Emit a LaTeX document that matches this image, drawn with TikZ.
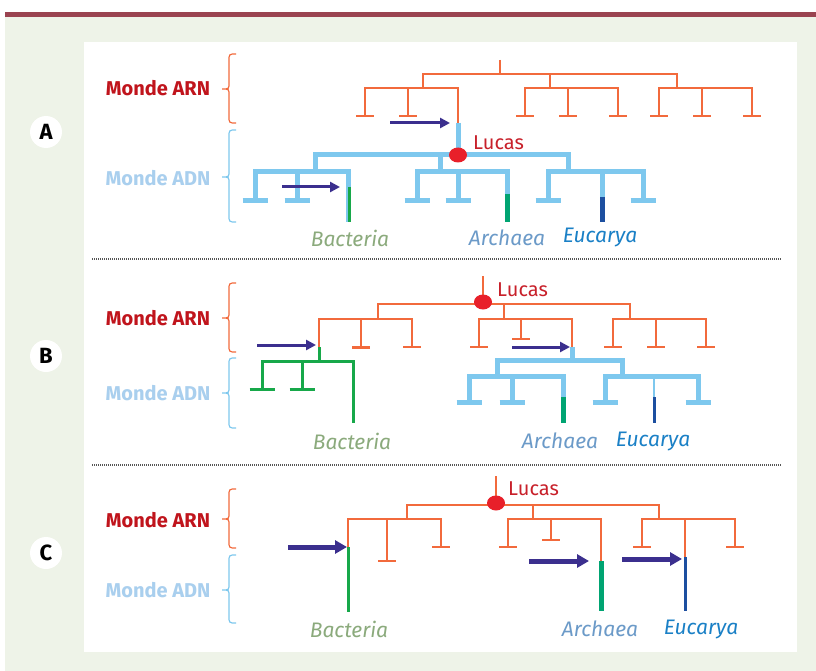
\documentclass[tikz,border=0pt]{standalone}
\usepackage{fontspec}
\setmainfont{Fira Sans}
\usetikzlibrary{arrows.meta,shapes.geometric}
\definecolor{arn}{HTML}{F26A3C}
\definecolor{adnb}{HTML}{7EC8EE}
\definecolor{dotred}{HTML}{E8202A}
\definecolor{lucasc}{HTML}{C8202A}
\definecolor{arrc}{HTML}{3B2F8E}
\definecolor{bactg}{HTML}{17A84A}
\definecolor{archg}{HTML}{00A472}
\definecolor{eucb}{HTML}{1D4FA0}
\definecolor{mondearn}{HTML}{C0141C}
\definecolor{mondeadn}{HTML}{A9CFEE}
\definecolor{lbact}{HTML}{8BAA7C}
\definecolor{larch}{HTML}{6B9AC8}
\definecolor{leuc}{HTML}{1A80C6}
\definecolor{bgg}{HTML}{EEF3E8}
\definecolor{barc}{HTML}{9A4350}
\definecolor{sepc}{HTML}{555555}
\begin{document}
\begin{tikzpicture}[x=1pt,y=-1pt,
  orn/.style={draw=arn, line width=2pt},
  adn/.style={draw=adnb, line width=5pt},
  grn/.style={draw=bactg, line width=3pt},
  archbar/.style={draw=archg, line width=5pt},
  eucbar/.style={draw=eucb, line width=5pt},
  eucthin/.style={draw=eucb, line width=3pt},
  arr/.style={draw=arrc, line width=3pt, -{Triangle[length=10pt,width=10pt]}},
  arrthick/.style={draw=arrc, line width=5pt, -{Triangle[length=12pt,width=13pt]}},
  lucasdot/.style={ellipse, fill=dotred, minimum width=18pt, minimum height=15pt, inner sep=0pt},
  lucastxt/.style={text=lucasc, anchor=west, inner sep=0pt, font=\fontsize{20}{22}\selectfont},
  mondearnl/.style={text=mondearn, font=\fontsize{20}{22}\selectfont\bfseries, inner sep=0pt},
  mondeadnl/.style={text=mondeadn, font=\fontsize{20}{22}\selectfont\bfseries, inner sep=0pt},
  taxon/.style={font=\fontsize{21}{23}\selectfont\itshape, inner sep=0pt},
  circl/.style={circle, fill=white, minimum size=32pt, inner sep=0pt, font=\fontsize{22}{24}\selectfont\bfseries},
  sep/.style={draw=sepc, line width=1.2pt, dash pattern=on 1pt off 1pt},
  bracearn/.style={draw=arn, line width=1.2pt},
  braceadn/.style={draw=adnb, line width=1.2pt}
]
\useasboundingbox (0,0) rectangle (816,671);
% background
\fill[bgg] (5,17) rectangle (816,671);
\fill[barc] (5,12) rectangle (816,17);
\fill[white] (84,42) rectangle (797,652);
% separators
\draw[sep] (92,259) -- (782,259);
\draw[sep] (92,465) -- (782,465);
% circles
\node[circl] (cA) at (46,132) {A};
\node[circl] (cB) at (46,356) {B};
\node[circl] (cC) at (46,553) {C};
% monde labels
\node[mondearnl] (arnA) at (158,88) {Monde ARN};
\node[mondeadnl] (adnA) at (158,178) {Monde ADN};
\node[mondearnl] (arnB) at (158,318) {Monde ARN};
\node[mondeadnl] (adnB) at (158,393) {Monde ADN};
\node[mondearnl] (arnC) at (158,520) {Monde ARN};
\node[mondeadnl] (adnC) at (158,590) {Monde ADN};
% braces: top, mid, bottom
\newcommand\lbrc[4]{%
  \draw[#1] (236,#2) .. controls (229,#2) .. (229,#2+7) -- (229,#3-6)
    .. controls (229,#3) .. (222,#3) .. controls (229,#3) .. (229,#3+6)
    -- (229,#4-7) .. controls (229,#4) .. (236,#4);}
\lbrc{bracearn}{54}{89}{123}
\lbrc{braceadn}{130}{177}{222}
\lbrc{bracearn}{283}{318}{352}
\lbrc{braceadn}{358}{393}{428}
\lbrc{bracearn}{489}{519}{548}
\lbrc{braceadn}{555}{590}{623}

%%%%%%%%%%%%%%%% Panel A
\draw[orn] (500,60) -- (500,74);
\draw[orn] (423,88) -- (423,74) -- (677,74) -- (677,88);
\draw[orn] (550,74) -- (550,88);
\draw[orn] (365,116) -- (365,88) -- (458,88) -- (458,123);
\draw[orn] (408,88) -- (408,116);
\draw[orn] (525,116) -- (525,88) -- (618,88) -- (618,116);
\draw[orn] (568,88) -- (568,116);
\draw[orn] (659,116) -- (659,88) -- (752,88) -- (752,116);
\draw[orn] (702,88) -- (702,116);
\foreach \x in {365,408,525,568,618,659,702,752}
  \draw[orn] (\x-9,116) -- (\x+9,116);
% ADN tree A
\draw[adn] (458,123) -- (458,155);
\draw[adn] (315,172) -- (315,155) -- (568,155) -- (568,172);
\draw[adn] (440,155) -- (440,172);
\draw[adn] (255,201) -- (255,172) -- (348,172) -- (348,222);
\draw[adn] (297,172) -- (297,201);
\draw[adn] (417,201) -- (417,172) -- (507,172) -- (507,194);
\draw[adn] (458,172) -- (458,201);
\draw[adn] (548,201) -- (548,172) -- (643,172) -- (643,201);
\draw[adn] (602,172) -- (602,197);
\foreach \x in {255,297,417,458,548,643}
  \draw[adn] (\x-12.5,201) -- (\x+12.5,201);
\draw[grn] (349.5,187) -- (349.5,222);
\draw[archbar] (507,194) -- (507,222);
\draw[eucbar] (602,197) -- (602,222);
\node[lucasdot] (lucA) at (458,155) {};
\node[lucastxt] (lucAt) at (473,143) {Lucas};
\coordinate (a1s) at (390,123); \coordinate (a1e) at (450,123);
\coordinate (a2s) at (282,187); \coordinate (a2e) at (340,187);
\draw[arr] (a1s) -- (a1e);
\draw[arr] (a2s) -- (a2e);
\node[taxon, text=lbact] (bactA) at (350,238) {Bacteria};
\node[taxon, text=larch] (archA) at (507,238) {Archaea};
\node[taxon, text=leuc] (eucA) at (600,238) {Eucarya};

%%%%%%%%%%%%%%%% Panel B
\draw[orn] (483,276) -- (483,304);
\draw[orn] (378,319) -- (378,304) -- (630,304) -- (630,319);
\draw[orn] (504,304) -- (504,319);
\draw[orn] (319,347) -- (319,319) -- (412,319) -- (412,347);
\draw[orn] (361,319) -- (361,347);
\draw[arn, line width=3pt] (352,347) -- (370,347);
\draw[orn] (403,347) -- (421,347);
\draw[orn] (479,347) -- (479,319) -- (572,319) -- (572,347);
\draw[orn] (521,319) -- (521,339);
\draw[orn] (512,339) -- (530,339);
\draw[orn] (470,347) -- (488,347);
\draw[orn] (613,347) -- (613,319) -- (706,319) -- (706,347);
\draw[orn] (656,319) -- (656,347);
\foreach \x in {613,656,706}
  \draw[orn] (\x-9,347) -- (\x+9,347);
% green subtree B
\draw[grn] (319,347) -- (319,361);
\draw[grn] (262,389) -- (262,361) -- (353,361) -- (353,423);
\draw[grn] (302,361) -- (302,389);
\foreach \x in {262,302}
  \draw[grn] (\x-12.5,389) -- (\x+12.5,389);
% blue subtree B
\draw[adn] (572,347) -- (572,360);
\draw[adn] (497,376) -- (497,360) -- (622,360) -- (622,376);
\draw[adn] (469,402) -- (469,376) -- (563,376) -- (563,397);
\draw[adn] (512,376) -- (512,402);
\draw[adn] (605,402) -- (605,376) -- (698,376) -- (698,402);
\draw[adnb, line width=2pt] (654,376) -- (654,397);
\foreach \x in {469,512,605,698}
  \draw[adn] (\x-12.5,402) -- (\x+12.5,402);
\draw[archbar] (563,397) -- (563,423);
\draw[eucthin] (654,397) -- (654,423);
\node[lucasdot] (lucB) at (483,302) {};
\node[lucastxt] (lucBt) at (497,290) {Lucas};
\coordinate (b1s) at (257,345); \coordinate (b1e) at (316,345);
\coordinate (b2s) at (512,347); \coordinate (b2e) at (570,347);
\draw[arr] (b1s) -- (b1e);
\draw[arr] (b2s) -- (b2e);
\node[taxon, text=lbact] (bactB) at (352,441) {Bacteria};
\node[taxon, text=larch] (archB) at (560,441) {Archaea};
\node[taxon, text=leuc] (eucB) at (653,441) {Eucarya};

%%%%%%%%%%%%%%%% Panel C
\draw[orn] (496,476) -- (496,505);
\draw[orn] (407,519) -- (407,505) -- (659,505) -- (659,519);
\draw[orn] (533,505) -- (533,519);
\draw[orn] (348,547) -- (348,519) -- (441,519) -- (441,547);
\draw[orn] (387,519) -- (387,561);
\draw[orn] (508,547) -- (508,519) -- (601,519) -- (601,561);
\draw[orn] (551,519) -- (551,540);
\draw[orn] (642,547) -- (642,519) -- (735,519) -- (735,547);
\draw[orn] (685,519) -- (685,557);
\foreach \x/\y in {441/547,387/561,508/547,551/540,642/547,735/547}
  \draw[orn] (\x-9,\y) -- (\x+9,\y);
\draw[grn] (348,547) -- (348,612);
\draw[archbar] (601,561) -- (601,611);
\draw[eucthin] (685,557) -- (685,611);
\node[lucasdot] (lucC) at (496,503) {};
\node[lucastxt] (lucCt) at (508,489) {Lucas};
\coordinate (c1s) at (288,547); \coordinate (c1e) at (347,547);
\coordinate (c2s) at (529,561); \coordinate (c2e) at (589,561);
\coordinate (c3s) at (622,559); \coordinate (c3e) at (682,559);
\draw[arrthick] (c1s) -- (c1e);
\draw[arrthick] (c2s) -- (c2e);
\draw[arrthick] (c3s) -- (c3e);
\node[taxon, text=lbact] (bactC) at (349,629) {Bacteria};
\node[taxon, text=larch] (archC) at (600,629) {Archaea};
\node[taxon, text=leuc] (eucC) at (701,629) {Eucarya};
\end{tikzpicture}
\end{document}
